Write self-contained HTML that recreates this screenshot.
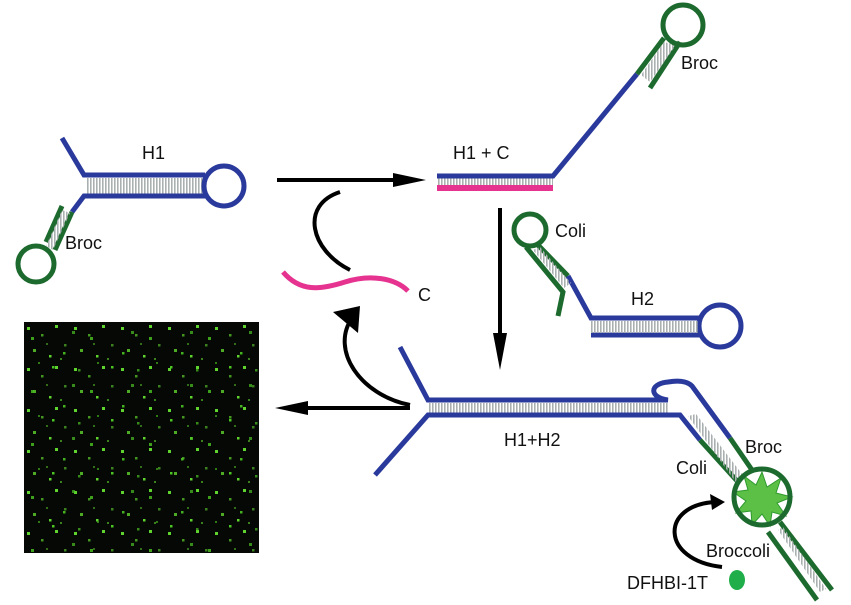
<!DOCTYPE html>
<html><head><style>body{margin:0;background:#fff}svg{display:block}text{font-family:"Liberation Sans",sans-serif;font-size:18px;fill:#111}</style></head><body>
<svg width="851" height="605" viewBox="0 0 851 605">
<defs>
<pattern id="h" width="3" height="10" patternUnits="userSpaceOnUse"><rect width="1.6" height="10" fill="#aab0b0"/></pattern>
<pattern id="d1" x="24" y="322" width="47" height="41" patternUnits="userSpaceOnUse">
<g fill="#5fd32e"><rect x="3" y="5" width="3" height="3"/><rect x="17" y="12" width="2.5" height="2.5" opacity=".7"/><rect x="31" y="3" width="3" height="3"/><rect x="40" y="22" width="2.5" height="2.5" opacity=".6"/><rect x="9" y="27" width="3" height="3" opacity=".8"/><rect x="25" y="33" width="2.5" height="2.5"/><rect x="36" y="36" width="2" height="2" opacity=".6"/><rect x="22" y="21" width="2" height="2" opacity=".5"/></g>
</pattern>
<pattern id="d2" x="24" y="322" width="59" height="53" patternUnits="userSpaceOnUse">
<g fill="#4cc423"><rect x="7" y="15" width="3" height="3" opacity=".8"/><rect x="28" y="44" width="2.5" height="2.5"/><rect x="48" y="9" width="3" height="3" opacity=".7"/><rect x="39" y="30" width="2.5" height="2.5" opacity=".9"/><rect x="14" y="40" width="2" height="2" opacity=".6"/><rect x="54" y="47" width="2.5" height="2.5" opacity=".7"/></g>
</pattern>
</defs>
<g fill="none" stroke-width="5" stroke-linecap="butt">
<!-- H1 -->
<rect x="86" y="178" width="118" height="16" fill="url(#h)" stroke="none"/>
<path d="M62 138 L84 175 L205 175" stroke="#2a3a9c"/>
<path d="M205 196 L84 196 L72 212" stroke="#2a3a9c"/>
<circle cx="224" cy="186" r="20" stroke="#2a3a9c"/>
<path d="M72 212 L55 250" stroke="#1d6a2e"/>
<path d="M62 206 L46 242" stroke="#1d6a2e"/>
<polygon points="62,210 70,213 53,250 46,246" fill="url(#h)" stroke="none"/>
<circle cx="36" cy="264" r="18" stroke="#1d6a2e"/>
<!-- H1+C -->
<rect x="437" y="178" width="116" height="7" fill="url(#h)" stroke="none"/>
<path d="M437 176 L553 176 L637 74" stroke="#2a3a9c"/>
<path d="M437 188 L553 188" stroke="#e5338f" stroke-width="6"/>
<path d="M637 74 L664 38" stroke="#1d6a2e"/>
<path d="M680 42 L650 88" stroke="#1d6a2e"/>
<polygon points="664,42 676,45 650,82 641,75" fill="url(#h)" stroke="none"/>
<circle cx="683" cy="25" r="20" stroke="#1d6a2e"/>
<!-- arrows -->
<path d="M277 180 L395 180" stroke="#000" stroke-width="4"/>
<polygon points="393,173 426,180 393,187" fill="#000" stroke="none"/>
<path d="M350 270 C310 250 300 205 340 192" stroke="#000" stroke-width="4"/>
<path d="M283 272 C300 292 320 290 345 282 C370 274 395 278 408 291" stroke="#e5338f" stroke-width="5"/>
<path d="M500 208 L500 335" stroke="#000" stroke-width="4"/>
<polygon points="493,333 500,370 507,333" fill="#000" stroke="none"/>
<!-- H2 -->
<circle cx="530" cy="230" r="16" stroke="#1d6a2e"/>
<path d="M538 245 L568 276" stroke="#1d6a2e"/>
<path d="M568 276 L591 318 L702 318" stroke="#2a3a9c"/>
<path d="M702 335 L591 335" stroke="#2a3a9c"/>
<circle cx="720" cy="326" r="21" stroke="#2a3a9c"/>
<path d="M526 247 L563 292 L558 316" stroke="#1d6a2e"/>
<polygon points="533,250 540,247 571,283 564,288" fill="url(#h)" stroke="none"/>
<rect x="591" y="321" width="108" height="12" fill="url(#h)" stroke="none"/>
<!-- H1+H2 -->
<rect x="429" y="403" width="240" height="10" fill="url(#h)" stroke="none"/>
<path d="M400 347 L428 400 L668 400 C650 398 648 384 668 382 C680 380 688 382 692 386 L730 438" stroke="#2a3a9c"/>
<path d="M730 438 L752 470" stroke="#1d6a2e"/>
<path d="M375 475 L428 415 L680 415 L700 440" stroke="#2a3a9c"/>
<path d="M700 440 L738 482" stroke="#1d6a2e"/>
<polygon points="688,416 696,414 745,478 737,484" fill="url(#h)" stroke="none"/>
<polygon points="762,472 767,487 781,478 776,493 792,497 777,503 786,516 772,512 770,526 762,514 752,525 751,511 736,513 746,501 733,492 748,490 744,476 756,485" fill="#5cc046" stroke="#2e9a2e" stroke-width="1"/>
<circle cx="762" cy="497" r="28" stroke="#1d6a2e" stroke-width="5"/>
<path d="M780 522 L832 590" stroke="#1d6a2e"/>
<path d="M768 532 L817 600" stroke="#1d6a2e"/>
<polygon points="778,530 783,527 826,589 820,592" fill="url(#h)" stroke="none"/>
<path d="M410 408 L305 408" stroke="#000" stroke-width="4"/>
<polygon points="308,401 275,408 308,415" fill="#000" stroke="none"/>
<path d="M410 405 C360 395 330 350 352 318" stroke="#000" stroke-width="4"/>
<polygon points="333,312 360,306 358,333" fill="#000" stroke="none"/>
<path d="M722 567 C660 560 660 505 715 502" stroke="#000" stroke-width="4"/>
<polygon points="710,494 725,502 712,510" fill="#000" stroke="none"/>
</g>
<ellipse cx="737" cy="580" rx="8" ry="10" fill="#1fae4a"/>
<rect x="24" y="322" width="235" height="231" fill="#050805"/>
<rect x="24" y="322" width="235" height="231" fill="url(#d1)"/>
<rect x="24" y="322" width="235" height="231" fill="url(#d2)"/>
<text x="142" y="159">H1</text>
<text x="65" y="249">Broc</text>
<text x="453" y="159">H1 + C</text>
<text x="681" y="69">Broc</text>
<text x="418" y="301">C</text>
<text x="555" y="237">Coli</text>
<text x="631" y="305">H2</text>
<text x="504" y="446">H1+H2</text>
<text x="745" y="453">Broc</text>
<text x="676" y="474">Coli</text>
<text x="706" y="557">Broccoli</text>
<text x="627" y="589">DFHBI-1T</text>
</svg>
</body></html>
